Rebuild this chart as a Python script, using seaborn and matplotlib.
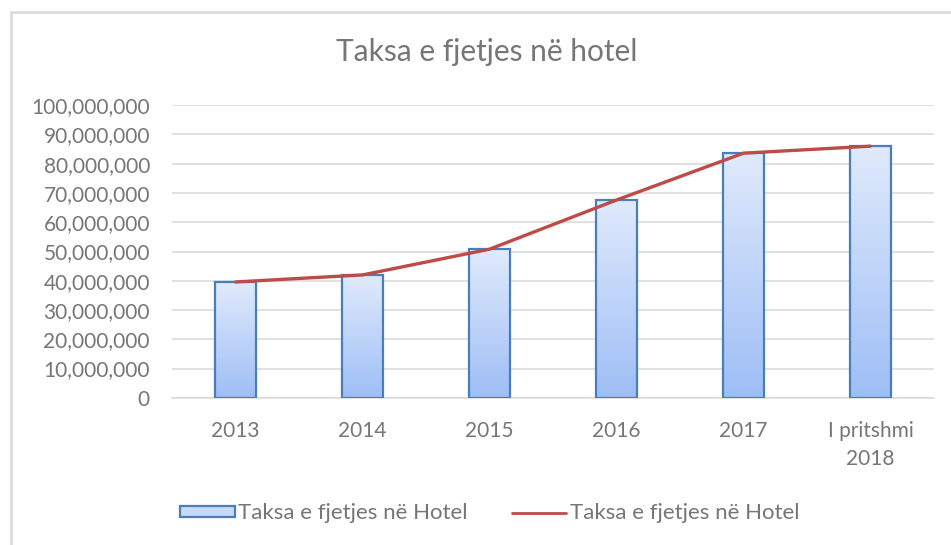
import numpy as np
import pandas as pd
import matplotlib
matplotlib.use("Agg")
import matplotlib.pyplot as plt
import seaborn as sns
from matplotlib.patches import Patch
from matplotlib.lines import Line2D
from matplotlib.ticker import FuncFormatter

# te dhenat
vitet = ["2013", "2014", "2015", "2016", "2017", "I pritshmi\n2018"]
taksa = [39600000, 42000000, 50800000, 67600000, 83600000, 86000000]
seria = "Taksa e fjetjes në Hotel"

df = pd.DataFrame({"viti": vitet, "taksa": taksa})

sns.set_style("white")
plt.rcParams["font.family"] = ["Lato", "DejaVu Sans"]
gri = "#767676"

fig = plt.figure(figsize=(9.51, 5.45), dpi=100)
ax = fig.add_axes([0.181, 0.270, 0.801, 0.537])

sns.barplot(data=df, x="viti", y="taksa", ax=ax, width=0.32,
            color="#c5d9f9", edgecolor="#4a7ebb", linewidth=1.6, zorder=3)

# gradient ne shtylla
grad = np.linspace(0, 1, 256).reshape(-1, 1)
cmap = matplotlib.colors.LinearSegmentedColormap.from_list("g", ["#9ebef6", "#e0eafc"])
for p in ax.patches:
    x0, y0 = p.get_x(), p.get_y()
    w, h = p.get_width(), p.get_height()
    im = ax.imshow(grad, extent=[x0, x0 + w, y0, y0 + h], origin="lower",
                   aspect="auto", cmap=cmap, zorder=3.5)
    im.set_clip_path(p)
    p.set_facecolor("none")
    p.set_zorder(4)

sns.lineplot(x=np.arange(len(vitet)), y=taksa, ax=ax, color="#be4b48",
             linewidth=2.4, zorder=5)

ax.set_xlim(-0.5, len(vitet) - 0.5)
ax.set_ylim(0, 100000000)
ax.set_yticks(np.arange(0, 100000001, 10000000))
ax.yaxis.set_major_formatter(FuncFormatter(lambda v, _: f"{int(v):,}"))
ax.grid(axis="y", color="#d9d9d9", linewidth=1.1, zorder=0)
ax.set_axisbelow(True)
for s in ["top", "right", "left"]:
    ax.spines[s].set_visible(False)
ax.spines["bottom"].set_color("#d9d9d9")
ax.spines["bottom"].set_linewidth(1.1)
ax.tick_params(axis="both", length=0, labelsize=15, colors=gri)
ax.tick_params(axis="y", pad=16)
ax.tick_params(axis="x", pad=17)
ax.set_xlabel("")
ax.set_ylabel("")
ax.set_xticks(range(len(vitet)))
ax.set_xticklabels(vitet, linespacing=1.45)

fig.text(0.512, 0.905, "Taksa e fjetjes në hotel", ha="center", va="center",
         fontsize=21.5, color=gri)

handles = [Patch(facecolor="#c5d9f9", edgecolor="#4a7ebb", linewidth=1.6, label=seria),
           Line2D([0], [0], color="#be4b48", linewidth=2, label=seria)]
fig.legend(handles=handles, loc="center", bbox_to_anchor=(0.515, 0.058), ncol=2,
           frameon=False, fontsize=16, labelcolor=gri, handlelength=2.45,
           handleheight=0.4, handletextpad=0.15, columnspacing=2.0)

# korniza e grafikut
fig.add_artist(Line2D([0.0115, 0.0115], [0.0, 0.978], transform=fig.transFigure,
                      color="#d9d9d9", linewidth=1.8))
fig.add_artist(Line2D([0.0115, 1.0], [0.978, 0.978], transform=fig.transFigure,
                      color="#d9d9d9", linewidth=1.8))

fig.savefig("out.png", dpi=100)
